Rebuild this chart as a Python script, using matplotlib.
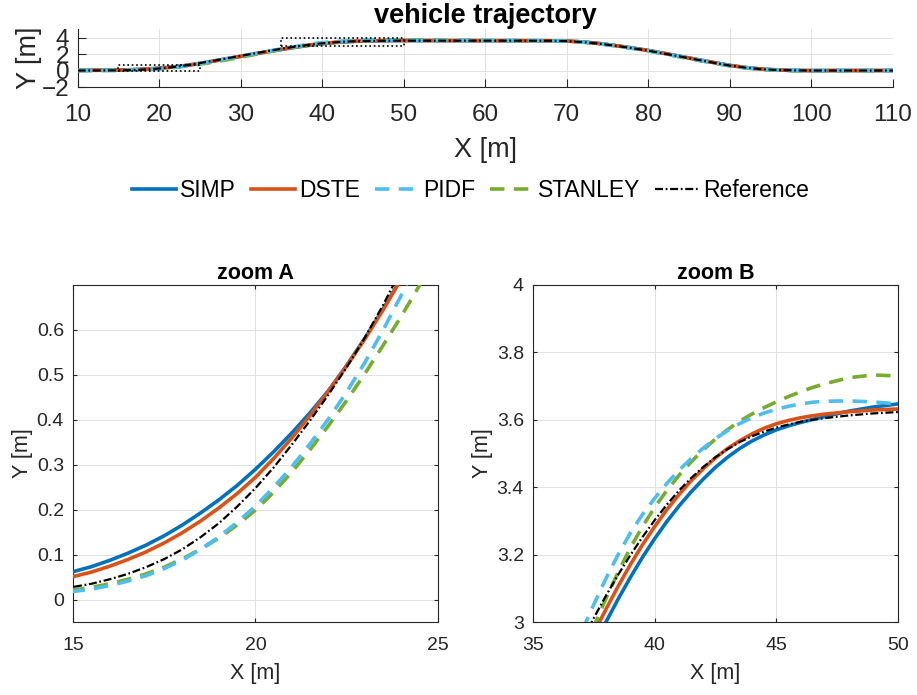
import numpy as np
import matplotlib
matplotlib.use("Agg")
import matplotlib.pyplot as plt
from matplotlib.patches import Rectangle

plt.rcParams['font.family'] = ['Liberation Sans', 'DejaVu Sans']

# x positions [m] shared by all trajectories (denser inside the two zoom windows)
x_m = [10, 12, 14,
       15, 15.5, 16, 16.5, 17, 17.5, 18, 18.5, 19, 19.5, 20, 20.5, 21, 21.5, 22, 22.5, 23, 23.5, 24,
       25, 26, 28, 30, 32, 34, 35, 36,
       37, 37.5, 38, 38.5, 39, 39.5, 40, 40.5, 41, 41.5, 42, 42.5, 43, 43.5, 44, 44.5, 45, 45.5,
       46, 46.5, 47,
       48, 49, 50,
       52, 55, 60, 65, 68,
       70, 72, 74, 76, 78, 80, 82, 84, 86, 88, 90, 92, 94, 96, 98, 100,
       104, 110]

# lateral position [m] of each controller
y_simp = [0.02, 0.035, 0.05,
          0.062, 0.073, 0.087, 0.103, 0.121, 0.142, 0.166, 0.193, 0.222, 0.254, 0.29, 0.329, 0.371,
          0.416, 0.465, 0.521, 0.582, 0.647, 0.715,
          0.865, 1.03, 1.37, 1.715, 2.06, 2.40, 2.56, 2.715,
          2.86, 2.931, 3.0, 3.068, 3.132, 3.192, 3.247, 3.298, 3.344, 3.386, 3.424, 3.459, 3.489,
          3.515, 3.537, 3.555, 3.570, 3.582, 3.592, 3.601, 3.610,
          3.626, 3.638, 3.647,
          3.646, 3.635, 3.625, 3.622, 3.615,
          3.58, 3.47, 3.28, 3.03, 2.75, 2.44, 2.08, 1.71, 1.34, 0.98, 0.63, 0.36, 0.17, 0.06, 0.01, -0.01,
          0.0, 0.0]
y_dste = [0.015, 0.028, 0.043,
          0.051, 0.061, 0.074, 0.089, 0.106, 0.126, 0.149, 0.175, 0.204, 0.236, 0.272, 0.314, 0.36,
          0.41, 0.464, 0.52, 0.58, 0.645, 0.715,
          0.87, 1.035, 1.38, 1.73, 2.08, 2.42, 2.58, 2.74,
          2.893, 2.967, 3.038, 3.106, 3.17, 3.229, 3.283, 3.333, 3.378, 3.419, 3.455, 3.487, 3.515,
          3.538, 3.558, 3.575, 3.588, 3.598, 3.606, 3.612, 3.617,
          3.624, 3.629, 3.632,
          3.63, 3.625, 3.622, 3.62, 3.612,
          3.575, 3.46, 3.27, 3.015, 2.735, 2.425, 2.065, 1.695, 1.325, 0.965, 0.615, 0.35, 0.165,
          0.06, 0.012, -0.005,
          0.0, 0.0]
y_pidf = [0.0, 0.004, 0.011,
          0.018, 0.023, 0.031, 0.041, 0.053, 0.069, 0.088, 0.112, 0.14, 0.172, 0.208, 0.25, 0.296,
          0.347, 0.402, 0.462, 0.528, 0.6, 0.678,
          0.853, 1.03, 1.39, 1.75, 2.105, 2.46, 2.633, 2.803,
          2.971, 3.052, 3.129, 3.2, 3.264, 3.319, 3.367, 3.411, 3.45, 3.485, 3.516, 3.544, 3.568,
          3.589, 3.606, 3.62, 3.631, 3.64, 3.647, 3.652, 3.655,
          3.656, 3.653, 3.647,
          3.637, 3.628, 3.622, 3.62, 3.607,
          3.56, 3.435, 3.24, 2.98, 2.7, 2.39, 2.03, 1.66, 1.29, 0.93, 0.585, 0.33, 0.155, 0.06, 0.015, 0.0,
          0.0, 0.0]
y_stanley = [0.0, 0.005, 0.014,
             0.021, 0.027, 0.035, 0.045, 0.057, 0.072, 0.091, 0.112, 0.137, 0.166, 0.199, 0.239, 0.284,
             0.334, 0.387, 0.443, 0.503, 0.566, 0.631,
             0.769, 0.917, 1.25, 1.615, 1.995, 2.375, 2.555, 2.73,
             2.9, 2.986, 3.07, 3.148, 3.22, 3.283, 3.34, 3.39, 3.435, 3.475, 3.511, 3.543, 3.571,
             3.596, 3.617, 3.636, 3.653, 3.669, 3.683, 3.696, 3.707,
             3.725, 3.733, 3.73,
             3.715, 3.68, 3.64, 3.625, 3.612,
             3.575, 3.46, 3.27, 3.0, 2.7, 2.38, 2.01, 1.63, 1.26, 0.9, 0.56, 0.3, 0.12, 0.02, -0.025, -0.04,
             -0.02, 0.0]
y_ref = [0.0, 0.004, 0.016,
         0.028, 0.035, 0.045, 0.057, 0.072, 0.09, 0.112, 0.139, 0.17, 0.207, 0.248, 0.294, 0.345,
         0.399, 0.456, 0.517, 0.583, 0.656, 0.735,
         0.905, 1.075, 1.425, 1.78, 2.135, 2.478, 2.638, 2.793,
         2.943, 3.012, 3.078, 3.14, 3.198, 3.252, 3.302, 3.348, 3.39, 3.427, 3.46, 3.489, 3.513,
         3.534, 3.551, 3.565, 3.577, 3.586, 3.594, 3.6, 3.605,
         3.613, 3.619, 3.623,
         3.622, 3.622, 3.622, 3.62, 3.61,
         3.57, 3.45, 3.26, 3.0, 2.72, 2.41, 2.05, 1.68, 1.31, 0.95, 0.6, 0.34, 0.16, 0.06, 0.015, 0.0,
         0.0, 0.0]

labels = ["SIMP", "DSTE", "PIDF", "STANLEY", "Reference"]

# zoom windows
zoom_a_x = [15, 25]
zoom_a_y = [-0.05, 0.7]
zoom_b_x = [35, 50]
zoom_b_y = [3, 4]

series = [y_simp, y_dste, y_pidf, y_stanley, y_ref]
colors = ['#0072BD', '#D95319', '#4DBEEE', '#77AC30', 'k']
styles = ['-', '-', (0, (4, 2.6)), (0, (4, 2.6)), (0, (3.6, 1.2, 0.8, 1.2))]
widths = [2.6, 2.6, 2.6, 2.6, 1.6]
zorders = [3, 3, 4, 3, 5]

axc = '#262626'
gridc = '#e2e2e2'

fig = plt.figure(figsize=(9.17, 6.95), dpi=100)
ax0 = fig.add_axes([0.0847, 0.8748, 0.8890, 0.0830])
axA = fig.add_axes([0.0796, 0.1050, 0.3980, 0.4850])
axB = fig.add_axes([0.5812, 0.1050, 0.3980, 0.4850])


def draw_lines(ax):
    for y, c, ls, lw, zo, lab in zip(series, colors, styles, widths, zorders, labels):
        ax.plot(x_m, y, color=c, linestyle=ls, linewidth=lw, zorder=zo, label=lab)


def style_axes(ax, fs, ticklen, xpad, ypad, box=True):
    ax.grid(True, color=gridc, linewidth=0.7, zorder=0)
    ax.set_axisbelow(True)
    for side in ['left', 'bottom', 'top', 'right']:
        ax.spines[side].set_color(axc)
        ax.spines[side].set_linewidth(0.8)
    if not box:
        ax.spines['top'].set_visible(False)
        ax.spines['right'].set_visible(False)
    ax.tick_params(direction='in', length=ticklen, width=0.8, colors=axc,
                   labelsize=fs, top=box, right=box)
    ax.tick_params(axis='x', pad=xpad)
    ax.tick_params(axis='y', pad=ypad)


# full trajectory
draw_lines(ax0)
for xl, yl in [(zoom_a_x, zoom_a_y), (zoom_b_x, zoom_b_y)]:
    ax0.add_patch(Rectangle((xl[0], yl[0]), xl[1] - xl[0], yl[1] - yl[0], fill=False,
                            edgecolor='k', linestyle=':', linewidth=1.2, zorder=6))
ax0.set_xlim(10, 110)
ax0.set_ylim(-2, 5)
ax0.set_xticks(np.arange(10, 111, 10))
ax0.set_yticks([-2, 0, 2, 4])
style_axes(ax0, 17.5, 5.5, xpad=12, ypad=6, box=False)
ax0.set_xlabel("X [m]", fontsize=19.5, color=axc, labelpad=8)
ax0.set_ylabel("Y [m]", fontsize=19.5, color=axc, labelpad=0)
ax0.set_title("vehicle trajectory", fontsize=19.5, fontweight='bold', pad=4)

# zoom A
draw_lines(axA)
axA.set_xlim(zoom_a_x)
axA.set_ylim(zoom_a_y)
axA.set_xticks([15, 20, 25])
axA.set_yticks(np.round(np.arange(0, 0.61, 0.1), 1))
axA.set_yticklabels(["0", "0.1", "0.2", "0.3", "0.4", "0.5", "0.6"])
style_axes(axA, 14, 3, xpad=11, ypad=6.5)
axA.set_xlabel("X [m]", fontsize=15.5, color=axc, labelpad=6)
axA.set_ylabel("Y [m]", fontsize=15.5, color=axc, labelpad=3)
axA.set_title("zoom A", fontsize=15.5, fontweight='bold', pad=4)

# zoom B
draw_lines(axB)
axB.set_xlim(zoom_b_x)
axB.set_ylim(zoom_b_y)
axB.set_xticks([35, 40, 45, 50])
axB.set_yticks([3, 3.2, 3.4, 3.6, 3.8, 4])
axB.set_yticklabels(["3", "3.2", "3.4", "3.6", "3.8", "4"])
style_axes(axB, 14, 3, xpad=11, ypad=6.5)
axB.set_xlabel("X [m]", fontsize=15.5, color=axc, labelpad=6)
axB.set_ylabel("Y [m]", fontsize=15.5, color=axc, labelpad=3)
axB.set_title("zoom B", fontsize=15.5, fontweight='bold', pad=4)

handles, labs = ax0.get_legend_handles_labels()
fig.legend(handles, labs, loc='center', bbox_to_anchor=(0.513, 0.726), ncol=5,
           frameon=False, fontsize=16.5, handlelength=1.95, handletextpad=0.15,
           columnspacing=0.65)

fig.savefig("out.png", dpi=100)
